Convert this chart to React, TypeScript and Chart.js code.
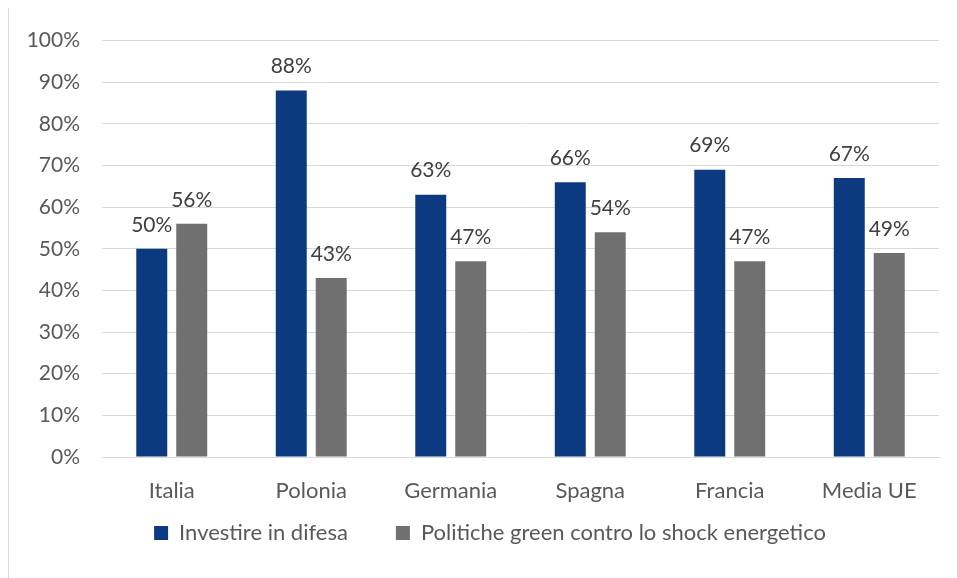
import React, { useEffect, useRef } from "react";
import { Chart, registerables } from "chart.js";

Chart.register(...registerables);

const categories = ["Italia", "Polonia", "Germania", "Spagna", "Francia", "Media UE"];
const seriesNames = ["Investire in difesa", "Politiche green contro lo shock energetico"];
const difesa = [50, 88, 63, 66, 69, 67];
const green = [56, 43, 47, 54, 47, 49];
const yTicks = [0, 10, 20, 30, 40, 50, 60, 70, 80, 90, 100];

const FONT = "Lato, 'Liberation Sans', sans-serif";
const BLUE = "#0B3A80";
const GRAY = "#707070";
const TEXT_SIZE = 22;
const NUM_SIZE = 21;
const LEGEND_PAD = 48;
const X_AXIS_H = 60;

const labelPlugin = {
  id: "barLabels",
  afterDatasetsDraw(chart: any) {
    const ctx = chart.ctx;
    ctx.save();
    ctx.font = `${NUM_SIZE}px ${FONT}`;
    ctx.fillStyle = "#404040";
    ctx.textAlign = "center";
    ctx.textBaseline = "middle";
    chart.data.datasets.forEach((ds: any, i: number) => {
      const meta = chart.getDatasetMeta(i);
      meta.data.forEach((bar: any, j: number) => {
        ctx.fillText(ds.data[j] + "%", bar.x, bar.y - 24);
      });
    });
    ctx.restore();
  },
};

const legendPlace = {
  id: "legendPlace",
  afterLayout(chart: any) {
    const lg = chart.legend;
    if (lg) {
      const h = lg.bottom - lg.top;
      lg.left += 16;
      lg.right += 16;
      lg.top = 527 - LEGEND_PAD - TEXT_SIZE / 2;
      lg.bottom = lg.top + h;
    }
  },
};

export default function App() {
  const ref = useRef<HTMLCanvasElement>(null);
  useEffect(() => {
    if (!ref.current) return;
    const chart = new Chart(ref.current, {
      type: "bar",
      data: {
        labels: categories,
        datasets: [
          {
            label: seriesNames[0],
            data: difesa,
            backgroundColor: BLUE,
            categoryPercentage: 0.573,
            barPercentage: 0.775,
          },
          {
            label: seriesNames[1],
            data: green,
            backgroundColor: GRAY,
            categoryPercentage: 0.573,
            barPercentage: 0.775,
          },
        ],
      },
      options: {
        animation: false,
        responsive: false,
        maintainAspectRatio: false,
        layout: {
          padding: { top: 28, right: 8, left: 0, bottom: 121 - X_AXIS_H - (TEXT_SIZE + LEGEND_PAD + 10) },
        },
        plugins: {
          tooltip: { enabled: false },
          legend: {
            position: "bottom",
            labels: {
              boxWidth: 14,
              boxHeight: 14,
              padding: LEGEND_PAD,
              color: "#595959",
              font: { size: TEXT_SIZE, family: FONT },
            },
          },
        },
        scales: {
          x: {
            afterFit(scale: any) {
              scale.height = X_AXIS_H;
            },
            grid: { display: false, drawTicks: false },
            border: { color: "#d9d9d9", width: 1 },
            ticks: { color: "#595959", padding: 21, font: { size: TEXT_SIZE, family: FONT } },
          },
          y: {
            min: 0,
            max: 100,
            afterFit(scale: any) {
              scale.width = 93;
            },
            afterBuildTicks(scale: any) {
              scale.ticks = yTicks.map((v) => ({ value: v }));
            },
            grid: { color: "#d9d9d9", lineWidth: 1, drawTicks: false },
            border: { display: false },
            ticks: {
              color: "#595959",
              padding: 22,
              font: { size: NUM_SIZE, family: FONT },
              callback: (v: any) => v + "%",
            },
          },
        },
      },
      plugins: [labelPlugin, legendPlace],
    });
    return () => chart.destroy();
  }, []);

  return (
    <div
      style={{
        position: "relative",
        width: 940,
        height: 580,
        marginTop: -3,
        borderLeft: "1px solid #d9d9d9",
        borderTop: "1px solid #d9d9d9",
        boxSizing: "border-box",
        background: "#fff",
      }}
    >
      <canvas ref={ref} width={938} height={572} style={{ display: "block" }} />
    </div>
  );
}
